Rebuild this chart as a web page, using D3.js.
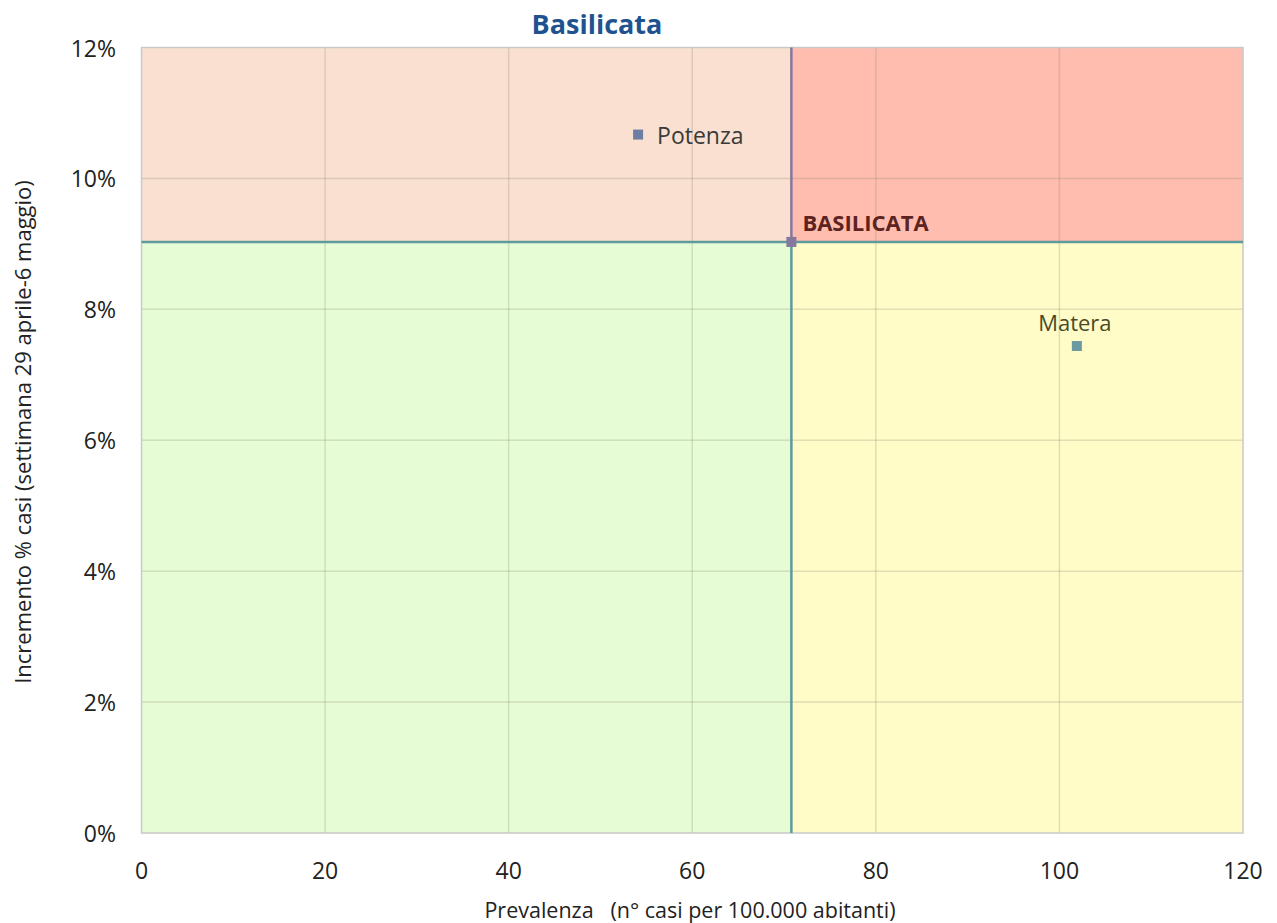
<!DOCTYPE html>
<html>
<head>
<meta charset="utf-8">
<script src="https://cdn.jsdelivr.net/npm/d3@7"></script>
<style>
  html, body { margin: 0; padding: 0; background: #fff; }
  svg { display: block; font-family: "Open Sans", sans-serif; }
</style>
</head>
<body>
<svg id="chart" width="1277" height="923"></svg>
<script>
// Provinces: prevalence (cases per 100,000) and weekly % increase
const names = ["Potenza", "Matera"];
const prevalence = [54.1, 101.9];
const increment = [0.1067, 0.0744];
const pointColors = ["#6b7fa3", "#6b9aa0"];

// Regional reference point splitting the chart into quadrants
const regionName = "BASILICATA";
const regionPrevalence = 70.8;
const regionIncrement = 0.0903;

const xTicks = [0, 20, 40, 60, 80, 100, 120];
const yTicks = [0, 0.02, 0.04, 0.06, 0.08, 0.10, 0.12];

const svg = d3.select("#chart");
const margin = { left: 141.5, right: 1243, top: 47.5, bottom: 833 };

const x = d3.scaleLinear().domain([0, 120]).range([margin.left, margin.right]);
const y = d3.scaleLinear().domain([0, 0.12]).range([margin.bottom, margin.top]);

// Quadrant backgrounds
const quads = [
  { x0: 0, x1: regionPrevalence, y0: regionIncrement, y1: 0.12, fill: "#f9e0d0" },
  { x0: regionPrevalence, x1: 120, y0: regionIncrement, y1: 0.12, fill: "#febdae" },
  { x0: 0, x1: regionPrevalence, y0: 0, y1: regionIncrement, fill: "#e6fcd4" },
  { x0: regionPrevalence, x1: 120, y0: 0, y1: regionIncrement, fill: "#fffcc8" }
];
svg.append("g").selectAll("rect").data(quads).join("rect")
  .attr("x", d => x(d.x0)).attr("y", d => y(d.y1))
  .attr("width", d => x(d.x1) - x(d.x0)).attr("height", d => y(d.y0) - y(d.y1))
  .attr("fill", d => d.fill);

// Gridlines
const grid = svg.append("g").attr("stroke", "rgba(140,130,110,0.25)").attr("stroke-width", 1.5);
grid.selectAll("line.v").data(xTicks.slice(1, -1)).join("line").attr("class", "v")
  .attr("x1", d => x(d)).attr("x2", d => x(d)).attr("y1", y(0)).attr("y2", y(0.12));
grid.selectAll("line.h").data(yTicks.slice(1, -1)).join("line").attr("class", "h")
  .attr("x1", x(0)).attr("x2", x(120)).attr("y1", d => y(d)).attr("y2", d => y(d));

// Plot frame
svg.append("rect")
  .attr("x", x(0)).attr("y", y(0.12))
  .attr("width", x(120) - x(0)).attr("height", y(0) - y(0.12))
  .attr("fill", "none").attr("stroke", "#c9c9c9").attr("stroke-width", 1.5);

// Reference lines through the regional point
svg.append("line")
  .attr("x1", x(0)).attr("x2", x(120))
  .attr("y1", y(regionIncrement)).attr("y2", y(regionIncrement))
  .attr("stroke", "#5f9a9c").attr("stroke-width", 2.5);
svg.append("line")
  .attr("x1", x(regionPrevalence)).attr("x2", x(regionPrevalence))
  .attr("y1", y(0.12)).attr("y2", y(regionIncrement))
  .attr("stroke", "#85779e").attr("stroke-width", 2.5);
svg.append("line")
  .attr("x1", x(regionPrevalence)).attr("x2", x(regionPrevalence))
  .attr("y1", y(regionIncrement)).attr("y2", y(0))
  .attr("stroke", "#5f9a9c").attr("stroke-width", 2.5);

// Markers
const m = 10;
svg.append("g").selectAll("rect").data(names).join("rect")
  .attr("x", (d, i) => x(prevalence[i]) - m / 2)
  .attr("y", (d, i) => y(increment[i]) - m / 2)
  .attr("width", m).attr("height", m)
  .attr("fill", (d, i) => pointColors[i]);
svg.append("rect")
  .attr("x", x(regionPrevalence) - m / 2).attr("y", y(regionIncrement) - m / 2)
  .attr("width", m).attr("height", m).attr("fill", "#85779e");

// Point labels
svg.append("text")
  .attr("x", x(prevalence[0]) + 19).attr("y", y(increment[0]) + 9)
  .attr("font-size", 23).attr("fill", "#3a3a3a").text(names[0]);
svg.append("text")
  .attr("x", x(prevalence[1]) - 2).attr("y", y(increment[1]) - 15)
  .attr("text-anchor", "middle")
  .attr("font-size", 22).attr("fill", "#4a4a2a").text(names[1]);
svg.append("text")
  .attr("x", x(regionPrevalence) + 11).attr("y", y(regionIncrement) - 11)
  .attr("font-size", 22).attr("font-weight", "bold").attr("fill", "#5c2320").text(regionName);

// Axis tick labels
svg.append("g").selectAll("text").data(xTicks).join("text")
  .attr("x", d => x(d)).attr("y", y(0) + 46)
  .attr("text-anchor", "middle").attr("font-size", 23).attr("fill", "#222")
  .text(d => d);
svg.append("g").selectAll("text").data(yTicks).join("text")
  .attr("x", 116).attr("y", d => y(d) + 9)
  .attr("text-anchor", "end").attr("font-size", 23).attr("fill", "#222")
  .text(d => d3.format(".0%")(d));

// Titles
svg.append("text")
  .attr("x", 597).attr("y", 34)
  .attr("text-anchor", "middle").attr("font-size", 27).attr("font-weight", "bold")
  .attr("fill", "#1f5390").text("Basilicata");
svg.append("text")
  .attr("x", 690).attr("y", 918)
  .attr("text-anchor", "middle").attr("font-size", 21.5).attr("fill", "#222")
  .text("Prevalenza\u00a0\u00a0 (n° casi per 100.000 abitanti)");
svg.append("text")
  .attr("transform", "translate(31,432) rotate(-90)")
  .attr("text-anchor", "middle").attr("font-size", 22).attr("fill", "#222")
  .text("Incremento % casi (settimana 29 aprile-6 maggio)");
</script>
</body>
</html>
